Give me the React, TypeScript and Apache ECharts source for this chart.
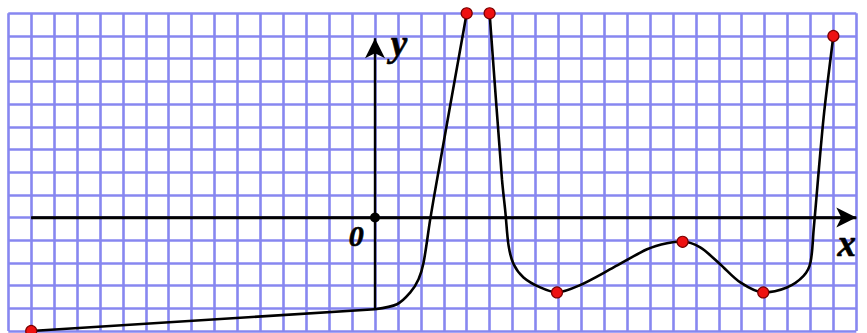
import React, { useEffect, useRef } from "react";
import * as echarts from "echarts";

// Curve (x, y in grid cells)
const straightPart: [number, number][] = [[-15, -5], [0, -4.04]];
const leftBranch: [number, number][] = [
  [0, -4.04], [0.96, -3.82], [1.54, -3.3], [1.9, -2.72], [2.12, -1.98],
  [2.41, -0.07], [2.71, 1.69], [4, 9],
];
const rightBranch: [number, number][] = [
  [5, 9], [5.54, 1.69], [5.69, 0.22], [5.83, -1.25], [6.05, -2.06], [6.48, -2.64],
  [7.21, -3.08], [7.94, -3.3], [8.9, -3.0], [10.41, -2.2], [11.87, -1.4], [12.74, -1.13],
  [13.42, -1.07], [14.19, -1.32], [15.06, -2.06], [15.94, -2.86], [16.94, -3.3],
  [17.97, -3.08], [18.7, -2.57], [19.0, -1.98], [19.14, -0.52], [19.57, 4.37], [20, 8],
];
const redDots: [number, number][] = [
  [-15, -5], [4, 9], [5, 9], [7.94, -3.3], [13.42, -1.07], [16.94, -3.3], [20, 8],
];
const origin: [number, number][] = [[0, 0]];
const xAxisLine: [number, number][] = [[-15, 0], [21.0, 0]];
const yAxisLine: [number, number][] = [[0, -4.04], [0, 7.9]];
const axisNames = [
  { name: "x", value: [20.58, -1.15] },
  { name: "y", value: [1.05, 7.65] },
];
const originName = [{ name: "0", value: [-0.82, -0.8] }];

const X_MIN = -16, X_MAX = 21, Y_MIN = -5, Y_MAX = 9;

export default function App() {
  const ref = useRef<HTMLDivElement>(null);
  useEffect(() => {
    const chart = echarts.init(ref.current!, null, { renderer: "svg" });
    const gridColor = "#8787f0";
    const labelBase = {
      show: true, position: "inside", formatter: "{b}", color: "#000", opacity: 1,
      fontFamily: "Liberation Serif", fontStyle: "italic", fontWeight: "bold",
      textBorderColor: "#000", textBorderWidth: 0.6,
    };
    chart.setOption({
      animation: false,
      backgroundColor: "#ffffff",
      grid: { left: 8.3, right: 10.7, top: 13.3, bottom: 2 },
      xAxis: {
        type: "value", min: X_MIN, max: X_MAX, interval: 1,
        axisLine: { show: false }, axisTick: { show: false }, axisLabel: { show: false },
        splitLine: { show: true, showMinLine: true, showMaxLine: true, lineStyle: { color: gridColor, width: 2.6 } },
      },
      yAxis: {
        type: "value", min: Y_MIN, max: Y_MAX, interval: 1,
        axisLine: { show: false }, axisTick: { show: false }, axisLabel: { show: false },
        splitLine: { show: true, showMinLine: true, showMaxLine: true, lineStyle: { color: gridColor, width: 2.6 } },
      },
      series: [
        {
          type: "line", data: xAxisLine, showSymbol: false, silent: true,
          lineStyle: { color: "#000", width: 2.4 },
          markLine: {
            silent: true, symbol: ["none", "arrow"], symbolSize: [15, 20],
            lineStyle: { color: "#000", width: 2.4, type: "solid" },
            label: { show: false },
            data: [
              [{ coord: xAxisLine[0] }, { coord: xAxisLine[1] }],
              [{ coord: yAxisLine[0] }, { coord: yAxisLine[1] }],
            ],
          },
        },
        {
          type: "line", data: straightPart, showSymbol: false,
          lineStyle: { color: "#000", width: 2.6 }, z: 3,
        },
        {
          type: "line", data: leftBranch, smooth: 0.3, showSymbol: false,
          lineStyle: { color: "#000", width: 2.6 }, z: 3,
        },
        {
          type: "line", data: rightBranch, smooth: 0.3, showSymbol: false,
          lineStyle: { color: "#000", width: 2.6 }, z: 3,
        },
        {
          type: "scatter", data: redDots, symbolSize: 11, z: 5,
          itemStyle: { color: "#ee1111", borderColor: "#7a0000", borderWidth: 1.2, opacity: 1 },
        },
        {
          type: "scatter", data: origin, symbolSize: 10, z: 5,
          itemStyle: { color: "#000", opacity: 1 },
        },
        {
          type: "scatter", data: axisNames, symbolSize: 0, z: 6,
          itemStyle: { opacity: 1 },
          label: { ...labelBase, fontSize: 37 },
        },
        {
          type: "scatter", data: originName, symbolSize: 0, z: 6,
          itemStyle: { opacity: 1 },
          label: { ...labelBase, fontSize: 30 },
        },
      ],
    });
    return () => chart.dispose();
  }, []);
  return (
    <div
      ref={ref}
      style={{ position: "fixed", left: 0, top: 0, width: 867, height: 333, background: "#fff" }}
    />
  );
}
